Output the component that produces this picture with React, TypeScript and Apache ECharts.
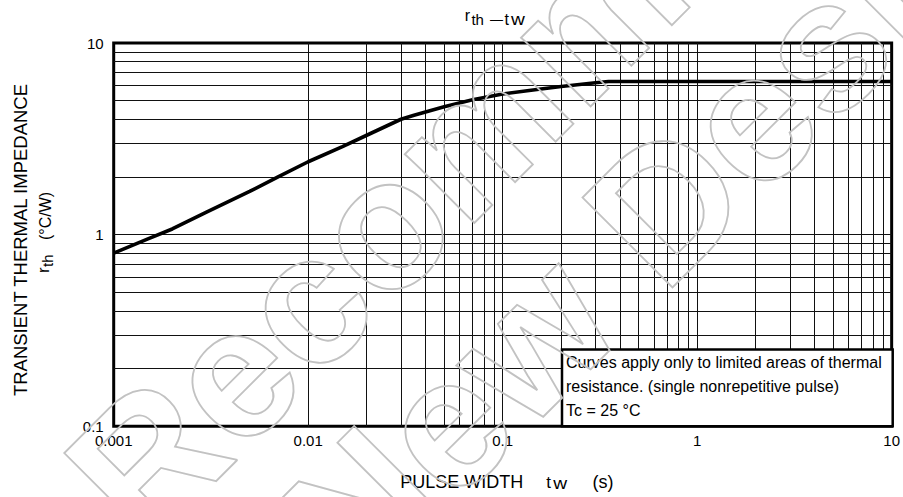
import React, { useEffect, useRef } from "react";
import * as echarts from "echarts";

// ---- data ----
const pulseWidth = [0.001, 0.0015, 0.002, 0.003, 0.005, 0.007, 0.01, 0.015, 0.02, 0.03, 0.035, 0.05, 0.07, 0.1, 0.15, 0.2, 0.3, 0.35, 1, 10];
const impedance = [0.8, 0.95, 1.07, 1.31, 1.68, 2.0, 2.4, 2.88, 3.3, 4.0, 4.2, 4.65, 5.05, 5.42, 5.72, 5.93, 6.2, 6.3, 6.3, 6.3];

const xTickLabels = ["0.001", "0.01", "0.1", "1", "10"];
const yTickLabels = ["0.1", "1", "10"];

const gridDecadesX = [0.001, 0.01, 0.1, 1];
const gridDecadesY = [0.1, 1];
const gridMultipliers = [1, 2, 3, 4, 5, 6, 7, 8, 9];

const noteLines = [
  "Curves apply only to limited areas of thermal",
  "resistance. (single nonrepetitive pulse)",
  "Tc = 25 °C",
];

const FONT = "'Liberation Sans', Arial, sans-serif";

function pickLabel(list: string[], v: number) {
  const found = list.find((l) => Math.abs(Math.log10(Number(l)) - Math.log10(v)) < 1e-6);
  return found ?? "";
}

function txt(text: string, x: number, y: number, size: number, extra: any = {}) {
  return {
    type: "text",
    x,
    y,
    z: 60,
    rotation: extra.rotation ?? 0,
    scaleX: extra.scaleX ?? 1,
    style: {
      text,
      fontSize: size,
      fontFamily: FONT,
      fill: "#000",
      align: extra.align ?? "left",
      verticalAlign: "middle",
      textAlign: extra.align ?? "left",
      textVerticalAlign: "middle",
    },
  };
}

export default function App() {
  const ref = useRef<HTMLDivElement>(null);

  useEffect(() => {
    const chart = echarts.init(ref.current!, null, { renderer: "svg", width: 903, height: 497 });

    const vLines: any[] = [];
    gridDecadesX.forEach((d, i) =>
      gridMultipliers.forEach((m) => {
        if (i === 0 && m === 1) return;
        vLines.push({ xAxis: d * m });
      })
    );
    const hLines: any[] = [];
    gridDecadesY.forEach((d, i) =>
      gridMultipliers.forEach((m) => {
        if (i === 0 && m === 1) return;
        hLines.push({ yAxis: d * m });
      })
    );

    const curve = pulseWidth.map((t, i) => [t, impedance[i]]);

    const wmStyle = {
      fontSize: 185,
      fontWeight: "bold",
      fontFamily: FONT,
      fill: "none",
      stroke: "#c2c2c2",
      lineWidth: 1.8,
      align: "left",
      verticalAlign: "middle",
      textAlign: "left",
      textVerticalAlign: "middle",
    };

    const option: any = {
      animation: false,
      backgroundColor: "#fff",
      textStyle: { fontFamily: FONT },
      grid: {
        left: 113.7,
        right: 10.3,
        top: 43,
        bottom: 70.8,
        show: true,
        borderColor: "#000",
        borderWidth: 3,
        backgroundColor: "transparent",
      },
      xAxis: {
        type: "log",
        logBase: 10,
        min: 0.001,
        max: 10,
        axisLine: { show: false },
        axisTick: { show: false },
        splitLine: { show: false },
        axisLabel: {
          color: "#000",
          fontSize: 15,
          margin: 7,
          fontFamily: FONT,
          formatter: (v: number) => pickLabel(xTickLabels, v),
        },
      },
      yAxis: {
        type: "log",
        logBase: 10,
        min: 0.1,
        max: 10,
        axisLine: { show: false },
        axisTick: { show: false },
        splitLine: { show: false },
        axisLabel: {
          color: "#000",
          fontSize: 15,
          margin: 10,
          fontFamily: FONT,
          formatter: (v: number) => pickLabel(yTickLabels, v),
        },
      },
      series: [
        {
          type: "line",
          data: [],
          z: 1,
          silent: true,
          markLine: {
            silent: true,
            symbol: ["none", "none"],
            label: { show: false },
            lineStyle: { type: "solid", color: "#111", width: 1 },
            emphasis: { disabled: true },
            data: [...vLines, ...hLines],
          },
        },
        {
          type: "line",
          data: curve,
          z: 5,
          showSymbol: false,
          symbol: "none",
          smooth: false,
          silent: true,
          lineStyle: { color: "#000", width: 3.6 },
        },
      ],
      graphic: [
        // note box
        {
          type: "rect",
          z: 50,
          shape: { x: 562, y: 349.5, width: 330.7, height: 76.7 },
          style: { fill: "#fff", stroke: "#000", lineWidth: 2.5 },
        },
        txt(noteLines[0], 566, 362.7, 16),
        txt(noteLines[1], 566, 386.7, 16),
        txt(noteLines[2], 566, 410.8, 16),
        // title r_th – t_w
        txt("r", 464.8, 15.4, 16),
        txt("th", 471.4, 19.8, 15),
        txt("—", 490, 19.3, 13),
        txt("t", 504.6, 19.4, 16),
        txt("w", 511, 19.8, 16, { scaleX: 1.2 }),
        // x axis name
        txt("PULSE WIDTH", 400.3, 482, 18),
        txt("t", 546.3, 482.4, 17),
        txt("w", 553.2, 483.8, 16, { scaleX: 1.2 }),
        txt("(s)", 592.5, 482, 18),
        // y axis name
        txt("TRANSIENT THERMAL IMPEDANCE", 20.5, 240, 18.5, { rotation: Math.PI / 2, align: "center" }),
        txt("(°C/W)", 45.5, 216, 16, { rotation: Math.PI / 2, align: "center" }),
        txt("r", 43, 273, 17, { rotation: Math.PI / 2 }),
        txt("th", 47, 267, 15, { rotation: Math.PI / 2 }),
        // watermark
        {
          type: "text",
          x: -154,
          y: 760.7,
          rotation: Math.PI / 4,
          z: 100,
          silent: true,
          style: { ...wmStyle, text: "Not Recommended" },
        },
        {
          type: "text",
          x: 102.5,
          y: 767,
          rotation: Math.PI / 4,
          z: 100,
          silent: true,
          style: { ...wmStyle, text: "for New Design" },
        },
      ],
    };

    chart.setOption(option);
    return () => chart.dispose();
  }, []);

  return (
    <div
      ref={ref}
      style={{ position: "absolute", left: 0, top: 0, width: 903, height: 497, background: "#fff" }}
    />
  );
}
